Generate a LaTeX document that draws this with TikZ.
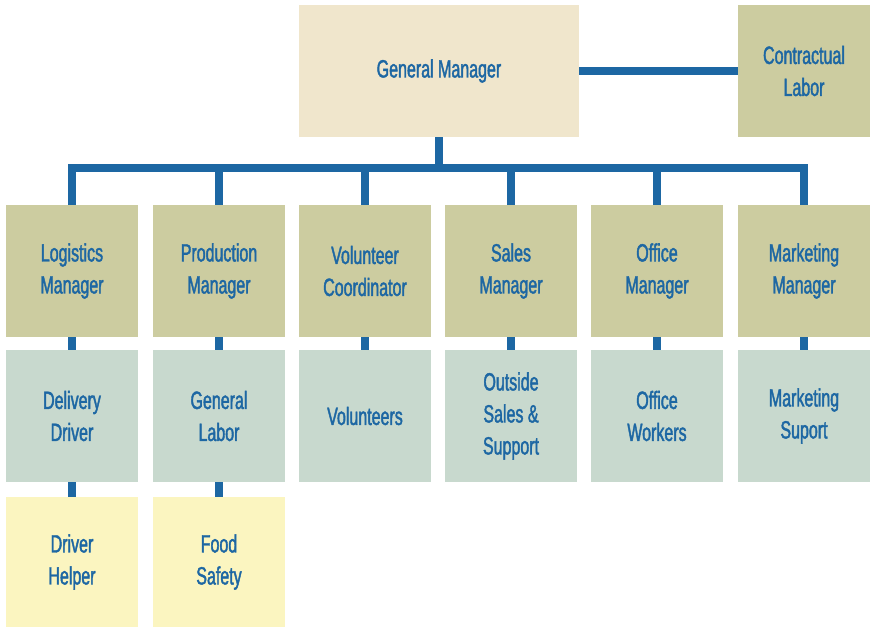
\documentclass[tikz,border=0pt]{standalone}
\usepackage{fontspec}
\setmainfont[FakeStretch=0.64,FakeBold=1.6]{Liberation Sans}
\definecolor{lineblue}{HTML}{1D67A3}
\definecolor{gmfill}{HTML}{F0E6CC}
\definecolor{mgrfill}{HTML}{CCCCA0}
\definecolor{staff}{HTML}{C8D9CE}
\definecolor{helper}{HTML}{FBF5C0}
\begin{document}
\begin{tikzpicture}[x=1pt,y=-1pt,
  box/.style={rectangle, inner sep=0pt, minimum width=132pt, minimum height=132pt,
    align=center, text=lineblue, font=\fontsize{25}{32}\selectfont},
  gmbox/.style={box, fill=gmfill, minimum width=280pt},
  mgr/.style={box, fill=mgrfill},
  stf/.style={box, fill=staff},
  hlp/.style={box, fill=helper, minimum height=130pt},
  conn/.style={draw=lineblue, line width=8pt}]
\useasboundingbox (0,0) rectangle (871,628);
\node[gmbox] (gm) at (439,71) {General Manager};
\node[mgr] (cl) at (804,71) {Contractual\\Labor};
\node[mgr] (lm) at (72,271) {Logistics\\Manager};
\node[mgr] (pm) at (219,271) {Production\\Manager};
\node[mgr] (vc) at (365,271) {Volunteer\\Coordinator};
\node[mgr] (sm) at (511,271) {Sales\\Manager};
\node[mgr] (om) at (657,271) {Office\\Manager};
\node[mgr] (mm) at (804,271) {Marketing\\Manager};
\node[stf] (dd) at (72,416) {Delivery\\Driver};
\node[stf] (gl) at (219,416) {General\\Labor};
\node[stf] (vo) at (365,416) {Volunteers};
\node[stf] (os) at (511,416) {Outside\\Sales \&\\Support};
\node[stf] (ow) at (657,416) {Office\\Workers};
\node[stf] (ms) at (804,416) {Marketing\\Suport};
\node[hlp] (dh) at (72,562) {Driver\\Helper};
\node[hlp] (fs) at (219,562) {Food\\Safety};
\coordinate (bus) at (439,168);
\path[conn] (gm.east) -- (cl.west);
\path[conn] (gm.south) -- (bus);
\foreach \n in {lm,pm,vc,sm,om,mm} { \path[conn] (\n.north) |- (bus); }
\path[conn] (lm.south) -- (dd.north);
\path[conn] (pm.south) -- (gl.north);
\path[conn] (vc.south) -- (vo.north);
\path[conn] (sm.south) -- (os.north);
\path[conn] (om.south) -- (ow.north);
\path[conn] (mm.south) -- (ms.north);
\path[conn] (dd.south) -- (dh.north);
\path[conn] (gl.south) -- (fs.north);
\end{tikzpicture}
\end{document}
